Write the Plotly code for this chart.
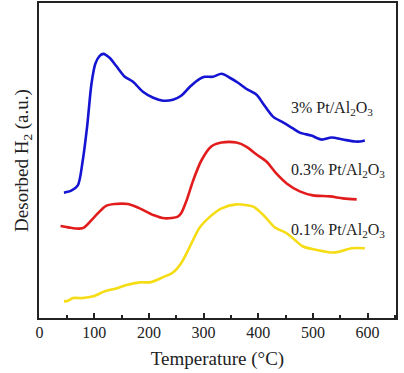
import plotly.graph_objects as go

# Temperature (°C) and desorbed H2 signal (arbitrary units)
t_3 = [44.6, 58, 70, 79, 87, 95, 102, 110, 117, 128, 140, 156, 171, 189, 208, 226, 244, 259, 275,
       293, 302, 317, 333, 348, 363, 378, 397, 409, 427, 446, 461, 476, 497, 516, 534, 555, 577, 586, 595]
h_3 = [125.7, 127.7, 133, 158, 192, 235, 255, 263, 265, 261, 253, 242, 237, 227, 221, 218, 219, 223, 232,
       240, 242, 242, 245, 241, 236, 230, 224, 215, 202, 196, 191, 186, 183, 179, 181, 179, 177, 177, 178]

t_03 = [38.5, 55, 73, 82, 101, 121, 137, 162, 183, 208, 229, 253, 259, 269, 281, 296, 314, 333, 360,
        378, 397, 415, 433, 452, 476, 500, 531, 555, 580]
h_03 = [92.3, 90.7, 89.7, 91, 101.7, 112.3, 114.3, 114.3, 110, 103.3, 100, 101.7, 105, 118, 138, 158, 172, 176, 176,
        172, 164, 157, 145, 135, 127, 123, 122, 120, 119]

t_01 = [44.6, 52, 61, 79, 98, 119, 140, 159, 183, 204, 226, 244, 259, 275, 293, 312, 333, 360, 391,
        400, 415, 430, 452, 467, 482, 507, 537, 549, 571, 595]
h_01 = [16.7, 17.3, 20, 20, 21.7, 26.7, 29.7, 33, 35.7, 36, 41, 45.7, 55, 71.7, 90.7, 101.7, 110, 114, 111.7,
        108, 100, 91, 85, 78.3, 71.7, 68.3, 65.7, 66.7, 70, 70]

labels = ["3% Pt/Al<sub>2</sub>O<sub>3</sub>", "0.3% Pt/Al<sub>2</sub>O<sub>3</sub>", "0.1% Pt/Al<sub>2</sub>O<sub>3</sub>"]
label_t = [459, 459, 459]
label_h = [210, 148, 88]

x_ticks = [0, 100, 200, 300, 400, 500, 600]

colors = ["#1414d2", "#e21c1c", "#f5dc14"]
serif = "Liberation Serif, Times New Roman, serif"

fig = go.Figure()
for t, h, c in [(t_3, h_3, colors[0]), (t_03, h_03, colors[1]), (t_01, h_01, colors[2])]:
    fig.add_trace(go.Scatter(x=t, y=h, mode="lines", line=dict(color=c, width=2.6, shape="spline", smoothing=0.8),
                             showlegend=False, hoverinfo="skip"))

for lab, lx, ly in zip(labels, label_t, label_h):
    fig.add_annotation(x=lx, y=ly, text=lab, showarrow=False, xanchor="left", yanchor="middle",
                       borderpad=0, font=dict(family=serif, size=16, color="#222222"))

fig.update_layout(
    width=404, height=373,
    margin=dict(l=39, r=8, t=3, b=55),
    plot_bgcolor="white", paper_bgcolor="white",
    font=dict(family=serif, color="#222222"),
)
fig.update_xaxes(range=[-1, 652], tickvals=x_ticks, ticks="inside", ticklen=5, tickwidth=1.5,
                 tickcolor="#222222", minor=dict(dtick=50, ticks="inside", ticklen=3, tickcolor="#222222", tickwidth=1.5),
                 showline=True, linewidth=2, linecolor="#222222", mirror=True, showgrid=False, zeroline=False,
                 automargin=False, tickfont=dict(size=16), ticklabelstandoff=-1,
                 title=dict(text="Temperature (°C)", font=dict(size=19), standoff=11))
fig.update_yaxes(range=[0, 316], showticklabels=False, ticks="", showline=True, linewidth=2,
                 linecolor="#222222", mirror=True, showgrid=False, zeroline=False, automargin=False,
                 title=dict(text="Desorbed H<sub>2</sub> (a.u.)", font=dict(size=19), standoff=3))

fig.write_html("out.html", config={"displayModeBar": False},
               post_script="document.body.style.margin='0';")
